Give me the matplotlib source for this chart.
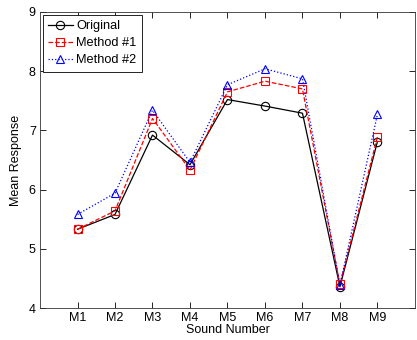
import matplotlib
matplotlib.use("Agg")
import matplotlib.pyplot as plt

labels = ["M1", "M2", "M3", "M4", "M5", "M6", "M7", "M8", "M9"]
original = [5.33, 5.58, 6.92, 6.42, 7.52, 7.41, 7.29, 4.36, 6.81]
method1 = [5.33, 5.64, 7.20, 6.33, 7.65, 7.83, 7.70, 4.40, 6.89]
method2 = [5.58, 5.94, 7.34, 6.46, 7.77, 8.04, 7.87, 4.39, 7.27]

plt.rcParams["font.family"] = ["Liberation Sans", "DejaVu Sans"]
plt.rcParams["font.size"] = 9

fig = plt.figure(figsize=(4.17, 3.40), dpi=100)
ax = fig.add_axes([0.096, 0.094, 0.899, 0.871])

x = list(range(1, len(labels) + 1))
ax.plot(x, original, color="black", linestyle="-", linewidth=0.9,
        marker="o", markersize=6, markerfacecolor="none", markeredgewidth=0.8,
        label="Original")
ax.plot(x, method1, color="red", linestyle="--", linewidth=0.9,
        marker="s", markersize=6, markerfacecolor="none", markeredgewidth=0.8,
        label="Method #1")
ax.plot(x, method2, color="blue", linestyle=":", linewidth=0.9,
        marker="^", markersize=6, markerfacecolor="none", markeredgewidth=0.8,
        label="Method #2")

ax.set_xlim(0, 10)
ax.set_ylim(4, 9)
ax.set_xticks(x)
ax.set_xticklabels(labels)
ax.set_yticks([4, 5, 6, 7, 8, 9])
ax.tick_params(direction="in", top=True, right=True, length=4, width=0.6,
               labelsize=9, colors="black", pad=3)
for s in ax.spines.values():
    s.set_linewidth(0.6)
    s.set_color("#333333")

ax.set_xlabel("Sound Number", fontsize=9, labelpad=0)
ax.set_ylabel("Mean Response", fontsize=9, labelpad=5)

leg = ax.legend(loc="upper left", fontsize=9.2, frameon=True, fancybox=False,
                edgecolor="black", framealpha=1, borderpad=0.4,
                handlelength=1.9, handletextpad=0.3, labelspacing=0.4,
                borderaxespad=0.25)
leg.get_frame().set_linewidth(0.6)

fig.savefig("out.png", dpi=100)
